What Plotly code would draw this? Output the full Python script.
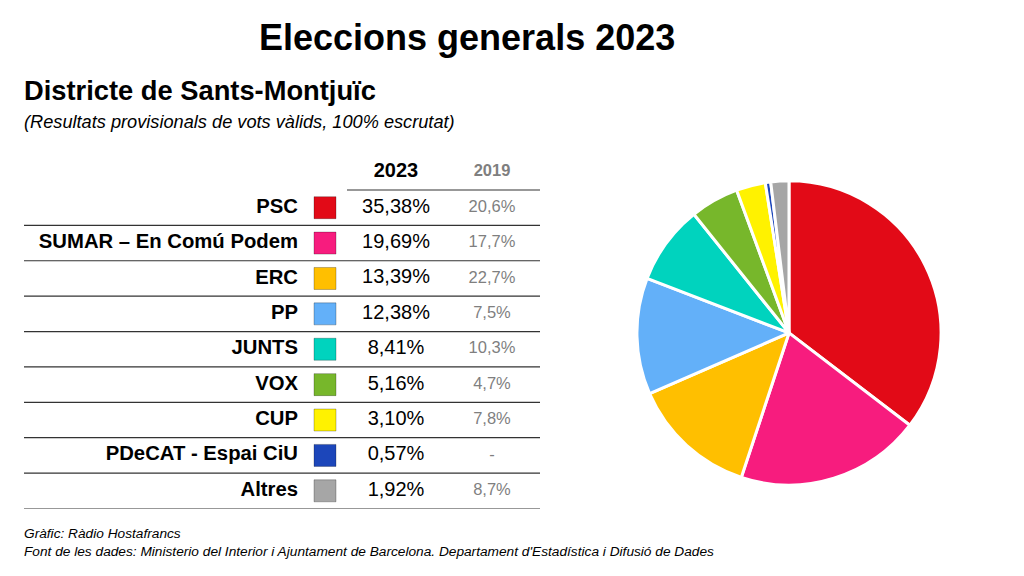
import plotly.graph_objects as go

# Dades
partits = ["PSC", "SUMAR – En Comú Podem", "ERC", "PP", "JUNTS", "VOX", "CUP",
           "PDeCAT - Espai CiU", "Altres"]
vots_2023 = [35.38, 19.69, 13.39, 12.38, 8.41, 5.16, 3.10, 0.57, 1.92]
vots_2019 = [20.6, 17.7, 22.7, 7.5, 10.3, 4.7, 7.8, None, 8.7]
colors = ["#E20A17", "#F71C7E", "#FFBF00", "#63B0F9", "#00D3BE", "#77B72B",
          "#FFF200", "#1C46BA", "#A6A6A6"]

FONT = "Liberation Sans, Arial, sans-serif"


def fmt(v, dec):
    if v is None:
        return "-"
    return f"{v:.{dec}f}%".replace(".", ",")


rows = list(range(len(partits)))

fig = go.Figure()

# party names
fig.add_trace(go.Scatter(
    x=[298] * len(partits), y=rows, mode="text", text=partits,
    textposition="middle left", hoverinfo="skip",
    textfont=dict(family=FONT, size=20.3, color="#000000", weight="bold"),
))
# colour swatches
fig.add_trace(go.Scatter(
    x=[325] * len(partits), y=rows, mode="markers", hoverinfo="skip",
    marker=dict(symbol="square", size=22, color=colors,
                line=dict(color="rgba(0,0,0,0.25)", width=1)),
))
# 2023 values
fig.add_trace(go.Scatter(
    x=[396] * len(partits), y=rows, mode="text",
    text=[fmt(v, 2) for v in vots_2023], hoverinfo="skip",
    textfont=dict(family=FONT, size=20, color="#000000"),
))
# 2019 values
fig.add_trace(go.Scatter(
    x=[492] * len(partits), y=rows, mode="text",
    text=[fmt(v, 1) for v in vots_2019], hoverinfo="skip",
    textfont=dict(family=FONT, size=16.5, color="#7F7F7F"),
))
# header
fig.add_trace(go.Scatter(
    x=[396, 492], y=[-1, -1], mode="text",
    text=["<b>2023</b>", "<b>2019</b>"], hoverinfo="skip",
    textfont=dict(family=FONT, size=[20, 16.5], color=["#000000", "#7F7F7F"]),
))

# pie
fig.add_trace(go.Pie(
    labels=partits, values=vots_2023, sort=False, direction="clockwise",
    rotation=0, textinfo="none", hoverinfo="label+percent",
    marker=dict(colors=colors, line=dict(color="#FFFFFF", width=3)),
    domain=dict(x=[0.621, 0.92], y=[0.158, 0.686]),
    showlegend=False,
))

# lines
shapes = [dict(type="line", xref="x", yref="y", x0=347, x1=540, y0=-0.5, y1=-0.5,
               line=dict(color="#333333", width=1.2))]
for i in rows:
    shapes.append(dict(type="line", xref="x", yref="y", x0=24, x1=540,
                       y0=i + 0.5, y1=i + 0.5,
                       line=dict(color="#333333", width=1.2)))

annotations = [
    dict(text="<b>Eleccions generals 2023</b>", x=0.456, y=1 - 38 / 576,
         xref="paper", yref="paper", showarrow=False, xanchor="center",
         yanchor="middle", font=dict(family=FONT, size=36, color="#000000")),
    dict(text="<b>Districte de Sants-Montjuïc</b>", x=22 / 1024, y=1 - 90 / 576,
         xref="paper", yref="paper", showarrow=False, xanchor="left",
         yanchor="middle", font=dict(family=FONT, size=27.3, color="#000000")),
    dict(text="<i>(Resultats provisionals de vots vàlids, 100% escrutat)</i>",
         x=22 / 1024, y=1 - 122 / 576, xref="paper", yref="paper",
         showarrow=False, xanchor="left", yanchor="middle",
         font=dict(family=FONT, size=18.2, color="#000000")),
    dict(text="<i>Gràfic: Ràdio Hostafrancs</i>", x=22 / 1024, y=1 - 533 / 576,
         xref="paper", yref="paper", showarrow=False, xanchor="left",
         yanchor="middle", font=dict(family=FONT, size=13.7, color="#000000")),
    dict(text="<i>Font de les dades: Ministerio del Interior i Ajuntament de Barcelona. "
              "Departament d'Estadística i Difusió de Dades</i>",
         x=22 / 1024, y=1 - 551 / 576, xref="paper", yref="paper",
         showarrow=False, xanchor="left", yanchor="middle",
         font=dict(family=FONT, size=13.7, color="#000000")),
]

fig.update_layout(
    width=1024, height=576,
    margin=dict(l=0, r=0, t=0, b=0),
    paper_bgcolor="#FFFFFF", plot_bgcolor="#FFFFFF",
    showlegend=False,
    xaxis=dict(domain=[0, 560 / 1024], range=[0, 560], visible=False,
               fixedrange=True),
    yaxis=dict(domain=[1 - 508.5 / 576, 1 - 154.6 / 576], range=[8.5, -1.5],
               visible=False, fixedrange=True),
    shapes=shapes,
    annotations=annotations,
)

fig.write_html("out.html", config={"displayModeBar": False},
               post_script="document.body.style.margin='0px';")
